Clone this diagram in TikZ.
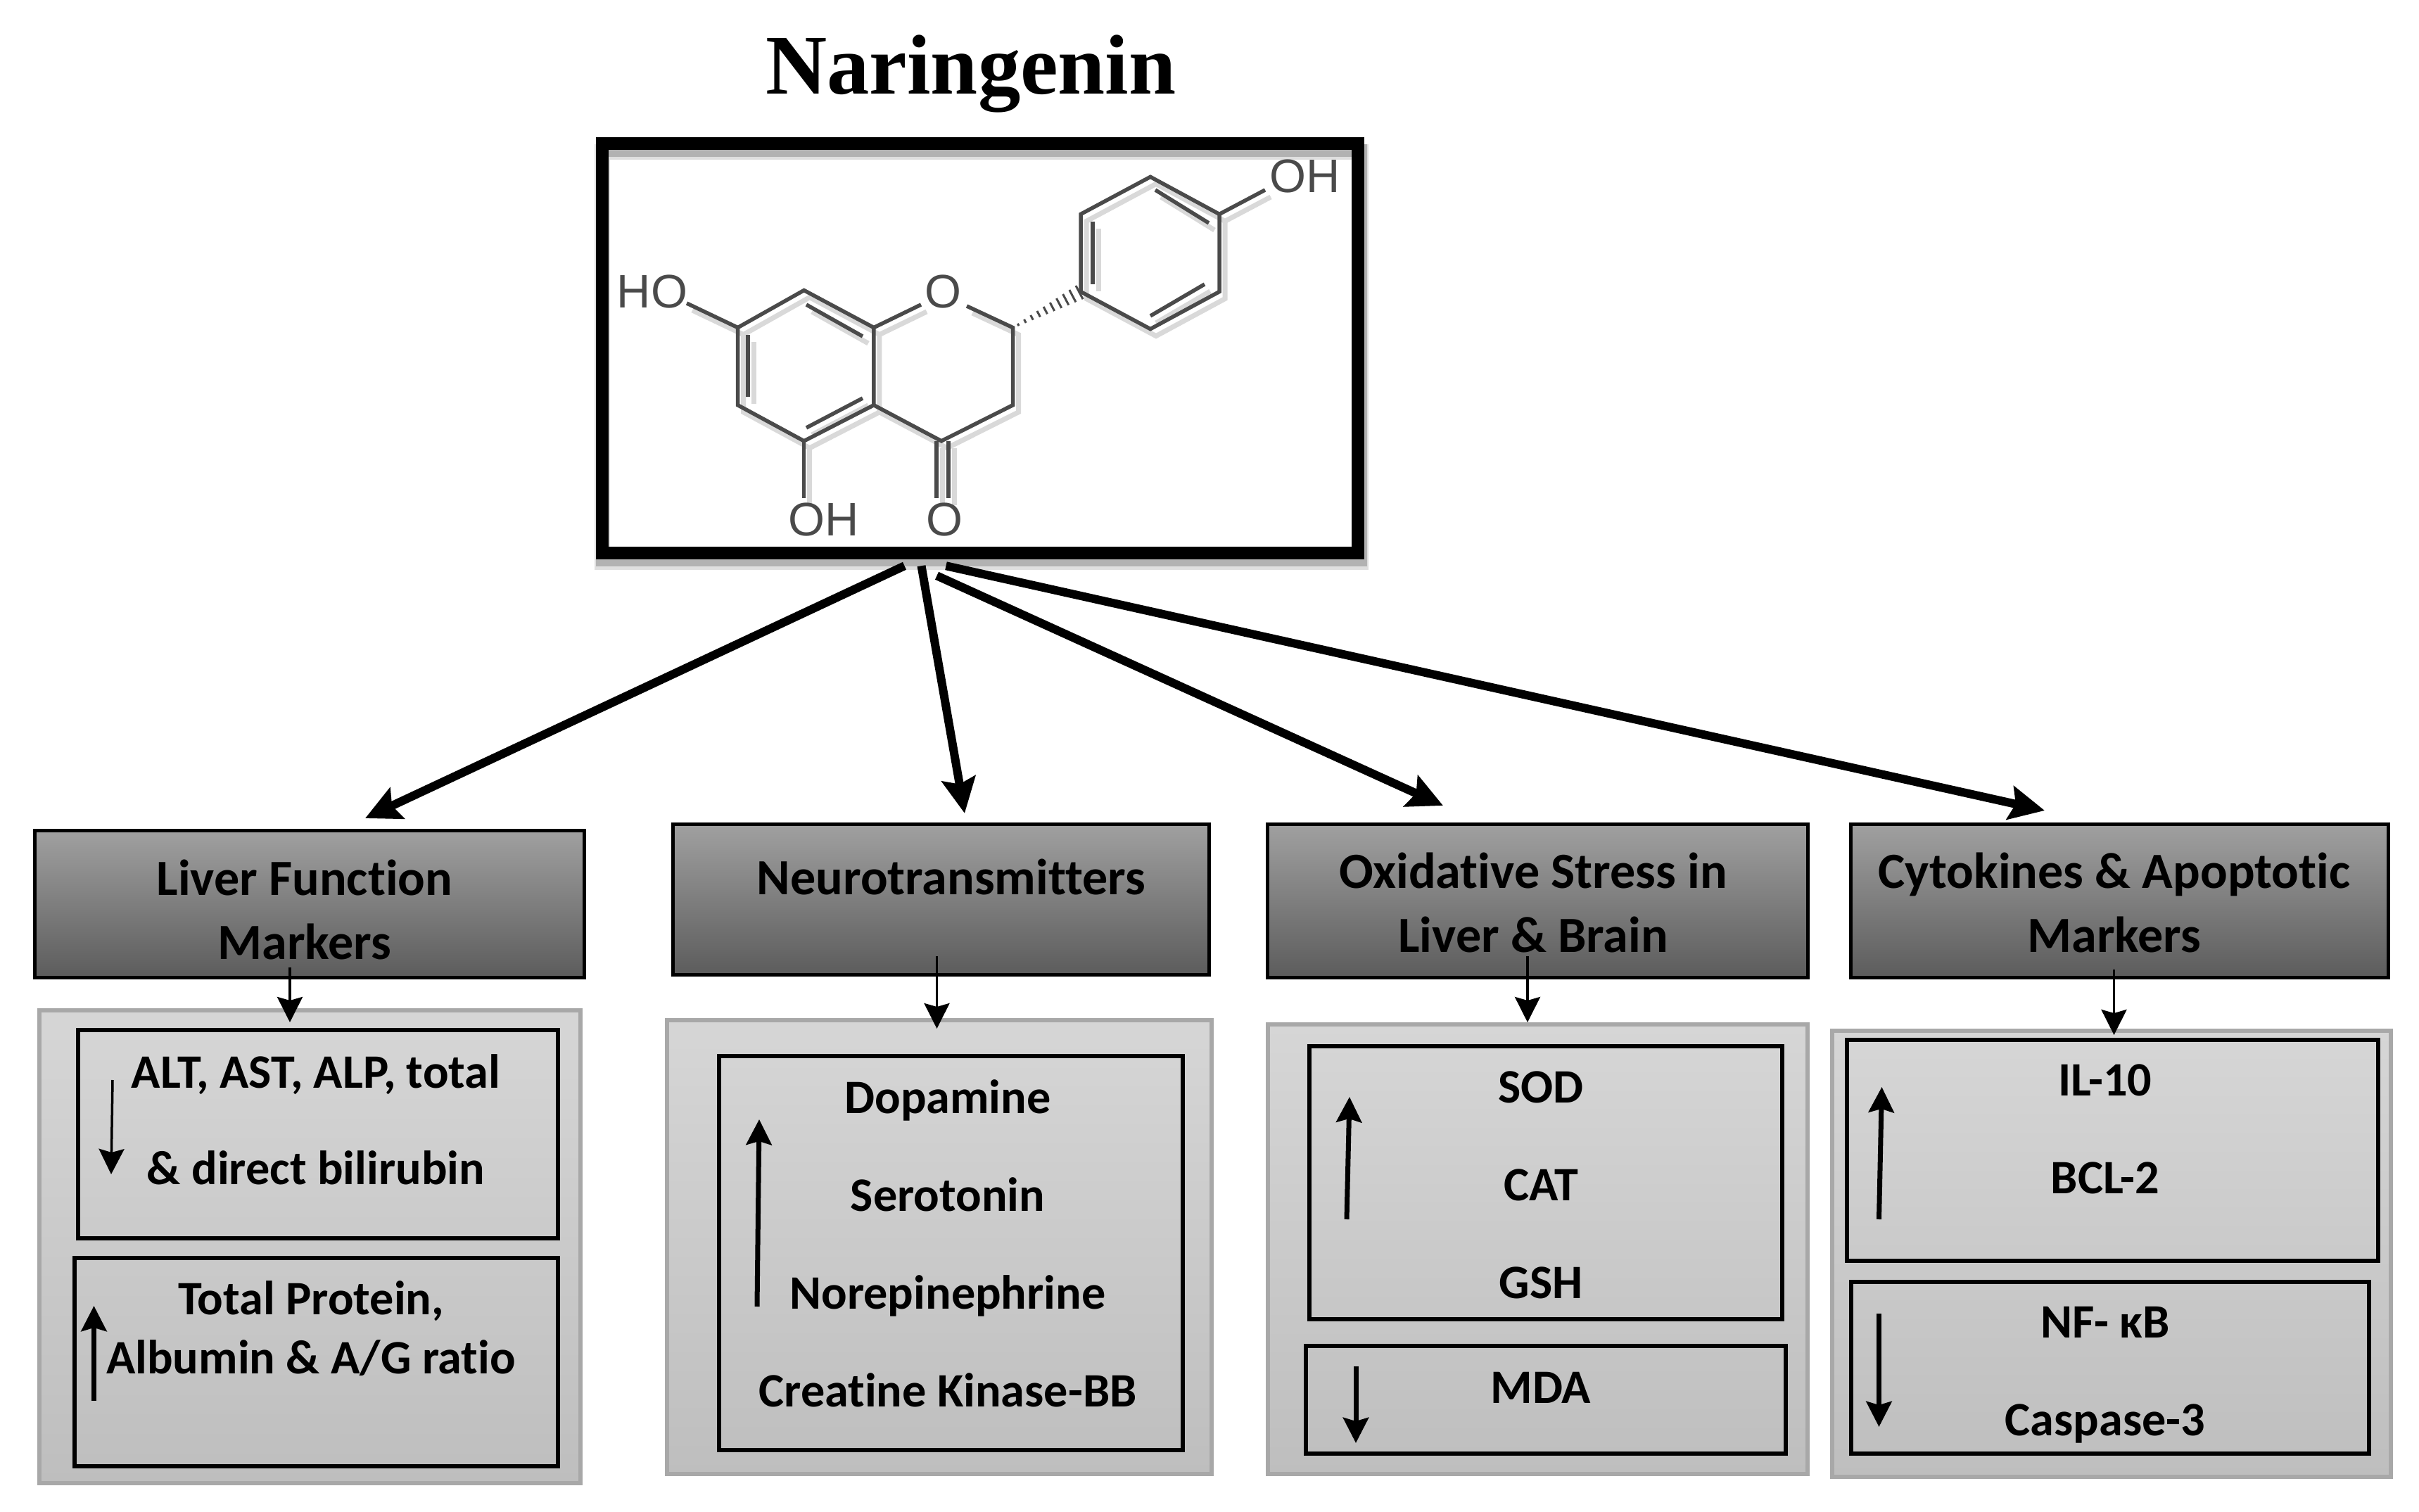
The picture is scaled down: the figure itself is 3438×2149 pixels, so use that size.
\documentclass[tikz,border=0pt]{standalone}
\usepackage{fontspec}
\usepackage{tikz}
\usetikzlibrary{arrows.meta}
\usetikzlibrary{calc}
\setmainfont{Carlito}[Ligatures=NoCommon]
\newfontfamily\titlefont{Liberation Serif}
\newfontfamily\atomfont{Liberation Sans}

\definecolor{bondgray}{HTML}{4A4A4A}
\definecolor{headtop}{HTML}{A0A0A0}
\definecolor{headbot}{HTML}{5C5C5C}
\definecolor{paneltop}{HTML}{D6D6D6}
\definecolor{panelbot}{HTML}{BEBEBE}
\definecolor{panelline}{HTML}{A8A8A8}

\tikzset{
  boxsize/.style 2 args={minimum width=#1*0.01cm,minimum height=#2*0.01cm,inner sep=0pt},
  headbox/.style={draw=black,line width=0.05cm,top color=headtop,bottom color=headbot},
  panelbox/.style={draw=panelline,line width=0.06cm,top color=paneltop,bottom color=panelbot},
  innerbox/.style={draw=black,line width=0.06cm},
  lbl/.style={font=\bfseries\fontsize{20.5}{#1}\selectfont,align=center,inner sep=0pt,text=black},
  innerlbl/.style={font=\bfseries\fontsize{19.4}{#1}\selectfont,align=center,inner sep=0pt,text=black},
  atomlbl/.style={font=\atomfont\fontsize{19}{19}\selectfont,inner sep=0pt,text=bondgray},
  bigarrow/.style={-{Stealth[length=0.5cm,width=0.48cm,inset=0.08cm]},line width=0.12cm},
  downarrow/.style={-{Stealth[length=0.36cm,width=0.36cm,inset=0.05cm]},line width=0.035cm},
  markarrow/.style={-{Stealth[length=0.36cm,width=0.36cm,inset=0.05cm]},line width=0.07cm},
}

% Bonds of the molecule, drawn once as shadow and once on top.
\newcommand{\molbonds}{
  \draw (1053.6,465.6) -- (1147.7,412.6) -- (1246.9,465.6) -- (1246.9,575.8)
    -- (1147.7,626.8) -- (1053.6,575.8) -- cycle;
  \draw (1068,476) -- (1068,564);
  \draw (1151,433) -- (1231,478);
  \draw (1231,566) -- (1151,608);
  \draw (1053.6,465.6) -- (981,431);
  \draw (1147.7,626.8) -- (1147.7,708);
  \draw (1246.9,465.6) -- (1314,433);
  \draw (1379,435) -- (1444.5,465.6) -- (1444.5,575.8) -- (1343,626.8) -- (1246.9,575.8);
  \draw (1336,627) -- (1336,708);
  \draw (1353,627) -- (1353,708);
  \draw (1541,414.6) -- (1541,304.4) -- (1640,251.4) -- (1738,304.4) -- (1738,414.6)
    -- (1640,467.6) -- cycle;
  \draw (1558,315) -- (1558,404);
  \draw (1647,270) -- (1723,317);
  \draw (1717,404) -- (1640,449);
  \draw (1738,304.4) -- (1803,270);
}

\begin{document}
\begin{tikzpicture}[x=0.01cm,y=-0.01cm]
  \useasboundingbox (0,0) rectangle (3438,2149);

  %%%%%%%%%%%%%%%%%%%%%%%%%%%%%%%%%%%%%%%%%%%%%%%%%%%%%%%%%%%%%%%%%%%%%%%%%%
  %%% BEGIN: MOLECULE.
  %%%%%%%%%%%%%%%%%%%%%%%%%%%%%%%%%%%%%%%%%%%%%%%%%%%%%%%%%%%%%%%%%%%%%%%%%%
  \node[font=\titlefont\bfseries\fontsize{34.3}{34.3}\selectfont,inner sep=0pt] (title) at (1380,105) {Naringenin};

  % Frame shadow, then the frame.
  \draw[gray!25,line width=0.22cm] (856,216) rectangle (1934,799);
  \draw[gray!60,line width=0.18cm] (856,214) rectangle (1934,796);
  \node[draw=black,line width=0.18cm,boxsize={1074}{582}] (mol) at (1392.5,495.25) {};

  % Bonds.
  \begin{scope}[shift={(3,10)},draw=gray!30,line width=0.07cm]
    \molbonds
  \end{scope}
  \begin{scope}[shift={(-5,0)},draw=bondgray,line width=0.055cm]
    \molbonds
    \foreach \t in {0.08,0.18,...,0.98}{
      \pgfmathsetmacro{\h}{1+10*\t}
      \draw[line width=0.03cm] ({1444.5+96.5*\t-0.467*\h},{465.6-51*\t-0.884*\h})
        -- ({1444.5+96.5*\t+0.467*\h},{465.6-51*\t+0.884*\h});
    }
  \end{scope}

  % Atom labels.
  \node[atomlbl] (ho7) at (927,414.6) {HO};
  \node[atomlbl] (o1) at (1340,414.6) {O};
  \node[atomlbl] (oh4) at (1855,251) {OH};
  \node[atomlbl] (oh5) at (1171,739) {OH};
  \node[atomlbl] (o4) at (1342,739) {O};
  %%%%%%%%%%%%%%%%%%%%%%%%%%%%%%%%%%%%%%%%%%%%%%%%%%%%%%%%%%%%%%%%%%%%%%%%%%
  %%% END: MOLECULE.
  %%%%%%%%%%%%%%%%%%%%%%%%%%%%%%%%%%%%%%%%%%%%%%%%%%%%%%%%%%%%%%%%%%%%%%%%%%

  %%%%%%%%%%%%%%%%%%%%%%%%%%%%%%%%%%%%%%%%%%%%%%%%%%%%%%%%%%%%%%%%%%%%%%%%%%
  %%% BEGIN: BOXES.
  %%%%%%%%%%%%%%%%%%%%%%%%%%%%%%%%%%%%%%%%%%%%%%%%%%%%%%%%%%%%%%%%%%%%%%%%%%
  % Headers.
  \node[headbox,boxsize={781}{209}] (liver) at (440,1285) {};
  \node[headbox,boxsize={762}{214}] (neuro) at (1337.5,1278.5) {};
  \node[headbox,boxsize={768}{218}] (oxid) at (2185.5,1280.5) {};
  \node[headbox,boxsize={764}{218}] (cyto) at (3012.5,1280.5) {};

  % Panels.
  \node[panelbox,boxsize={769}{672}] (liverpanel) at (440.5,1772) {};
  \node[panelbox,boxsize={774}{645}] (neuropanel) at (1335,1772.5) {};
  \node[panelbox,boxsize={767}{639}] (oxidpanel) at (2185.5,1775.5) {};
  \node[panelbox,boxsize={794}{634}] (cytopanel) at (3001,1782) {};

  % Inner boxes.
  \node[innerbox,boxsize={682}{296}] (liverup) at (452,1612) {};
  \node[innerbox,boxsize={687}{296}] (liverdown) at (449.5,1936) {};
  \node[innerbox,boxsize={659}{560}] (neuroup) at (1351.5,1781) {};
  \node[innerbox,boxsize={672}{388}] (oxidup) at (2197,1681) {};
  \node[innerbox,boxsize={682}{153}] (oxiddown) at (2197,1989.5) {};
  \node[innerbox,boxsize={755}{314}] (cytoup) at (3002.5,1635) {};
  \node[innerbox,boxsize={736}{244}] (cytodown) at (2999,1944) {};

  % Header texts.
  \node[lbl=26pt] (livertxt) at (433,1293) {Liver Function\\Markers};
  \node[lbl=26pt] (neurotxt) at (1352,1246) {Neurotransmitters};
  \node[lbl=26pt] (oxidtxt) at (2179,1283) {Oxidative Stress in\\Liver \& Brain};
  \node[lbl=26pt] (cytotxt) at (3005,1283) {Cytokines \& Apoptotic\\Markers};

  % Box texts.
  \node[innerlbl=39pt] (alttxt) at (449,1591) {ALT, AST, ALP, total\\\& direct bilirubin};
  \node[innerlbl=24pt] (prottxt) at (442,1888) {Total Protein,\\Albumin \& A/G ratio};
  \node[innerlbl=39.5pt] (dopatxt) at (1347,1767) {Dopamine\\Serotonin\\Norepinephrine\\Creatine Kinase-BB};
  \node[innerlbl=39.5pt] (sodtxt) at (2190,1684) {SOD\\CAT\\GSH};
  \node[innerlbl=39.5pt] (mdatxt) at (2190,1972) {MDA};
  \node[innerlbl=39.5pt] (iltxt) at (2992,1605) {IL-10\\BCL-2};
  \node[innerlbl=39.5pt] (nftxt) at (2992,1954) {NF- κB\\Caspase-3};
  %%%%%%%%%%%%%%%%%%%%%%%%%%%%%%%%%%%%%%%%%%%%%%%%%%%%%%%%%%%%%%%%%%%%%%%%%%
  %%% END: BOXES.
  %%%%%%%%%%%%%%%%%%%%%%%%%%%%%%%%%%%%%%%%%%%%%%%%%%%%%%%%%%%%%%%%%%%%%%%%%%

  %%%%%%%%%%%%%%%%%%%%%%%%%%%%%%%%%%%%%%%%%%%%%%%%%%%%%%%%%%%%%%%%%%%%%%%%%%
  %%% BEGIN: ARROWS.
  %%%%%%%%%%%%%%%%%%%%%%%%%%%%%%%%%%%%%%%%%%%%%%%%%%%%%%%%%%%%%%%%%%%%%%%%%%
  % From the frame to the headers.
  \draw[bigarrow] ($(mol.south)+(-107,9)$) -- ($(liver.north)+(79,-15)$);
  \draw[bigarrow] ($(mol.south)+(-83,9)$) -- ($(neuro.north)+(33.5,-13)$);
  \draw[bigarrow] ($(mol.south)+(-61,23)$) -- ($(oxid.north)+(-134.5,-24)$);
  \draw[bigarrow] ($(mol.south)+(-48,9)$) -- ($(cyto.north)+(-106.5,-17)$);

  % From the headers to the panels.
  \draw[downarrow] ($(liver.south)+(-28,-17)$) -- ($(liverpanel.north)+(-28.5,20)$);
  \draw[downarrow] ($(neuro.south)+(-6,-29)$) -- ($(neuropanel.north)+(-3.5,15)$);
  \draw[downarrow] ($(oxid.south)+(-14.5,-33)$) -- ($(oxidpanel.north)+(-14.5,0)$);
  \draw[downarrow] ($(cyto.south)+(-8,-14)$) -- ($(cytopanel.north)+(3.5,9)$);

  % Up and down marks inside the boxes.
  \coordinate (liverupa) at (160,1535);
  \coordinate (liverupb) at (158,1669);
  \coordinate (liverdowna) at (133.5,1991);
  \coordinate (liverdownb) at (133.5,1856);
  \coordinate (neuroa) at (1076,1857);
  \coordinate (neurob) at (1079,1591);
  \coordinate (oxidupa) at (1914,1733);
  \coordinate (oxidupb) at (1918,1559);
  \coordinate (oxiddowna) at (1927,1942);
  \coordinate (oxiddownb) at (1927,2051);
  \coordinate (cytoupa) at (2670.5,1733);
  \coordinate (cytoupb) at (2674.5,1545);
  \coordinate (cytodowna) at (2670.5,1867);
  \coordinate (cytodownb) at (2670.5,2028);
  \draw[downarrow] (liverupa) -- (liverupb);
  \foreach \a/\b in {liverdowna/liverdownb,neuroa/neurob,oxidupa/oxidupb,oxiddowna/oxiddownb,cytoupa/cytoupb,cytodowna/cytodownb}{
    \draw[markarrow] (\a) -- (\b);
  }
  %%%%%%%%%%%%%%%%%%%%%%%%%%%%%%%%%%%%%%%%%%%%%%%%%%%%%%%%%%%%%%%%%%%%%%%%%%
  %%% END: ARROWS.
  %%%%%%%%%%%%%%%%%%%%%%%%%%%%%%%%%%%%%%%%%%%%%%%%%%%%%%%%%%%%%%%%%%%%%%%%%%
\end{tikzpicture}
\end{document}
